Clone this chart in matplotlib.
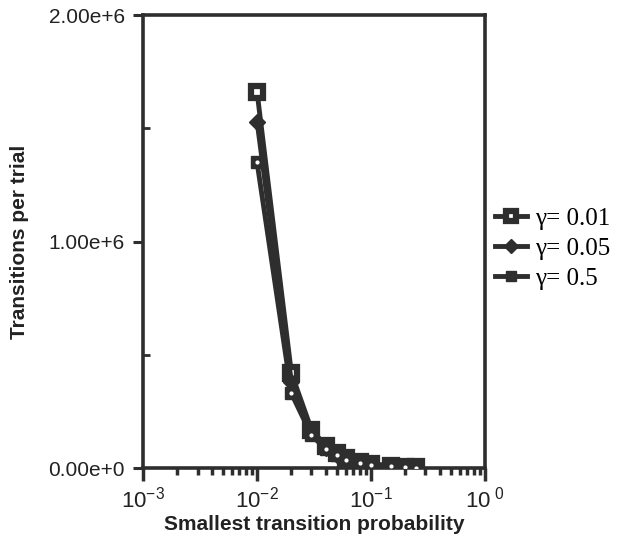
import matplotlib
matplotlib.use("Agg")
import matplotlib.pyplot as plt
from matplotlib.ticker import LogLocator, FixedLocator, NullFormatter, FixedFormatter

x_vals = [0.01, 0.02, 0.03, 0.04, 0.05, 0.06, 0.08, 0.1, 0.15, 0.2, 0.25]
y_g001 = [1.66e6, 0.42e6, 0.17e6, 0.10e6, 0.065e6, 0.045e6, 0.028e6, 0.020e6, 0.010e6, 0.006e6, 0.004e6]
y_g005 = [1.53e6, 0.38e6, 0.16e6, 0.09e6, 0.060e6, 0.040e6, 0.025e6, 0.018e6, 0.009e6, 0.005e6, 0.004e6]
y_g05 = [1.35e6, 0.33e6, 0.145e6, 0.085e6, 0.057e6, 0.035e6, 0.022e6, 0.015e6, 0.008e6, 0.005e6, 0.003e6]
labels = ["γ= 0.01", "γ= 0.05", "γ= 0.5"]
y_ticks = [0, 1e6, 2e6]
y_ticklabels = ["0.00e+0", "1.00e+6", "2.00e+6"]
x_ticks = [1e-3, 1e-2, 1e-1, 1e0]
x_ticklabels = [r"$10^{-3}$", r"$10^{-2}$", r"$10^{-1}$", r"$10^{\ 0}$"]

plt.rcParams['font.family'] = ['Liberation Sans', 'DejaVu Sans']
plt.rcParams['mathtext.fontset'] = 'custom'
plt.rcParams['mathtext.rm'] = 'Liberation Sans'
plt.rcParams['mathtext.it'] = 'Liberation Sans'

c = '#2e2e2e'
fig = plt.figure(figsize=(6.17, 5.40), dpi=100)
ax = fig.add_axes([0.232, 0.133, 0.554, 0.839])

ax.plot(x_vals, y_g001, color=c, lw=3.5, marker='s', ms=8.5, mfc='white', mec=c, mew=4.5, label=labels[0], zorder=3)
ax.plot(x_vals, y_g005, color=c, lw=3.5, marker='D', ms=8, mfc=c, mec=c, label=labels[1], zorder=3)
ax.plot(x_vals, y_g05, color=c, lw=3.5, marker='s', ms=9, mfc=c, mec=c, label=labels[2], zorder=3)
# small white dots in markers
ax.plot(x_vals, y_g05, ls='none', marker='o', ms=2, mfc='white', mec='white', zorder=4)

ax.set_xscale('log')
ax.set_xlim(1e-3, 1e0)
ax.set_ylim(0, 2e6)

ax.xaxis.set_major_locator(FixedLocator(x_ticks))
ax.xaxis.set_major_formatter(FixedFormatter(x_ticklabels))
ax.xaxis.set_minor_locator(LogLocator(base=10, subs=range(2, 10)))
ax.xaxis.set_minor_formatter(NullFormatter())
ax.yaxis.set_major_locator(FixedLocator(y_ticks))
ax.yaxis.set_major_formatter(FixedFormatter(y_ticklabels))
ax.yaxis.set_minor_locator(FixedLocator([0.5e6, 1.5e6]))

ax.tick_params(axis='x', which='major', direction='out', length=9, width=2.5, color=c, labelsize=16, pad=4, labelcolor='#222222')
ax.tick_params(axis='x', which='minor', direction='out', length=5, width=2.5, color=c)
ax.tick_params(axis='y', which='major', direction='out', length=7, width=2.2, color=c, labelsize=15, pad=6, labelcolor='#222222')
ax.tick_params(axis='y', which='minor', direction='in', length=5, width=2, color=c)

for s in ax.spines.values():
    s.set_linewidth(2.6)
    s.set_color(c)

ax.set_xlabel("Smallest transition probability", fontsize=15, fontweight='bold', color='#222222', labelpad=2)
ax.set_ylabel("Transitions per trial", fontsize=15, fontweight='bold', color='#222222', labelpad=14)

leg = ax.legend(loc='center left', bbox_to_anchor=(1.0, 0.485), frameon=False,
                prop={'family': ['Liberation Serif', 'DejaVu Serif'], 'size': 18},
                handlelength=1.3, handletextpad=0.3, labelspacing=0.3, borderaxespad=0.2,
                borderpad=0.2, markerscale=0.85)

fig.savefig("out.png", dpi=100)
